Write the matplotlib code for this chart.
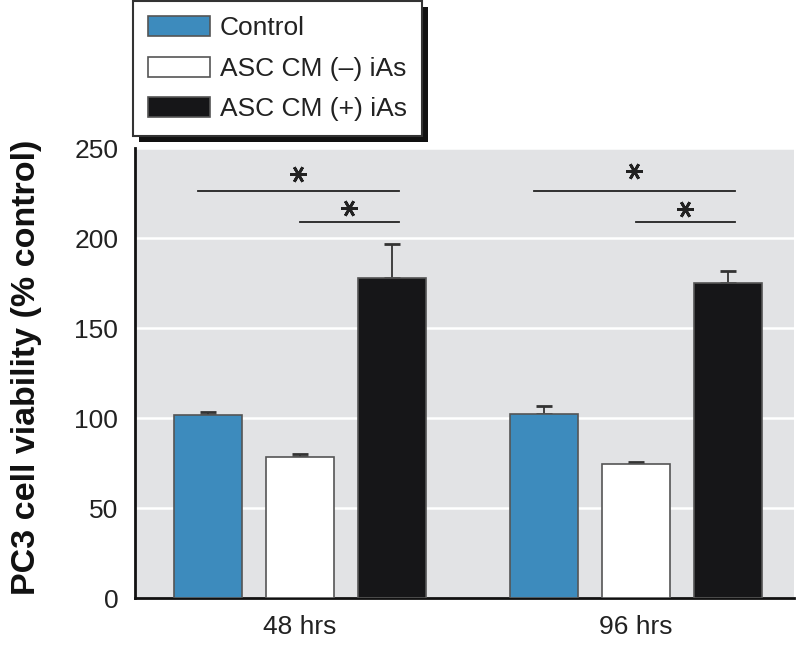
import matplotlib
matplotlib.use("Agg")
import matplotlib.pyplot as plt
from matplotlib import font_manager
from matplotlib.patches import Patch, Rectangle
import numpy as np

# data
groups = ["48 hrs", "96 hrs"]
series = ["Control", "ASC CM (\u2013) iAs", "ASC CM (+) iAs"]
values = {
    "Control": [101.7, 102.0],
    "ASC CM (\u2013) iAs": [78.2, 74.4],
    "ASC CM (+) iAs": [178.0, 174.8],
}
errors = {
    "Control": [1.8, 4.7],
    "ASC CM (\u2013) iAs": [1.8, 1.1],
    "ASC CM (+) iAs": [18.8, 7.0],
}
colors = ["#3d8bbd", "#ffffff", "#161618"]
# significance brackets: (group, from series, to series, y, star y)
sig = [(0, 0, 2, 226, 235.5), (0, 1, 2, 208.7, 216.5),
       (1, 0, 2, 226, 237), (1, 1, 2, 208.7, 216)]

avail = {f.name for f in font_manager.fontManager.ttflist}
narrow = "Liberation Sans Narrow" if "Liberation Sans Narrow" in avail else "Liberation Sans"
plt.rcParams["font.family"] = [narrow, "DejaVu Sans"]

fig = plt.figure(figsize=(8, 6.48), dpi=100)
ax = fig.add_axes([135 / 800, 50 / 648, (794 - 135) / 800, 450 / 648])
ax.set_facecolor("#e2e3e5")

offset = 92 / 336
width = 68 / 336
x = np.arange(len(groups))
for i, s in enumerate(series):
    pos = x + (i - 1) * offset
    ax.bar(pos, values[s], width, color=colors[i], edgecolor="#555555",
           linewidth=1.2, zorder=3)
    ax.errorbar(pos, values[s], yerr=[np.zeros(len(groups)), errors[s]],
                fmt="none", ecolor="#333333", elinewidth=1.3, capsize=6,
                capthick=2, zorder=2)

for g, a, b, y, ys in sig:
    xa = g + (a - 1) * offset - 0.03 if a == 0 else g + (a - 1) * offset
    xb = g + (b - 1) * offset + 0.02
    ax.plot([xa, xb], [y, y], color="#222222", lw=1.3, zorder=4)
    ax.plot([(xa + xb) / 2], [ys], marker=(6, 2, 90), ms=12, mew=2,
            color="#222222", zorder=4)

ax.set_xlim(-165 / 336, 494 / 336)
ax.set_ylim(0, 250)
ax.set_yticks([0, 50, 100, 150, 200, 250])
ax.yaxis.grid(True, color="white", lw=1.8, zorder=0)
ax.set_axisbelow(True)
ax.set_xticks(x)
ax.set_xticklabels(groups)
ax.tick_params(axis="both", length=0, labelsize=19, colors="#222222")
ax.tick_params(axis="y", pad=12)
ax.tick_params(axis="x", pad=12)
for side in ["top", "right"]:
    ax.spines[side].set_visible(False)
for side in ["left", "bottom"]:
    ax.spines[side].set_linewidth(2)
    ax.spines[side].set_color("#111111")

fig.text(27 / 800, 1 - 367 / 648, "PC3 cell viability (% control)",
         rotation=90, ha="center", va="center", fontsize=24.5,
         fontweight="bold", color="#111111")

handles = [Patch(facecolor=c, edgecolor="#555555", lw=1.2) for c in colors]
leg = fig.legend(handles, series, loc="lower left",
                 bbox_to_anchor=(133 / 800, 1 - 136 / 648), fontsize=19,
                 frameon=True, fancybox=False, edgecolor="#333333",
                 framealpha=1, handlelength=2.35, handleheight=0.8,
                 handletextpad=0.4, labelspacing=0.62, borderpad=0.55,
                 borderaxespad=0)
leg.get_frame().set_linewidth(1.5)
leg.set_zorder(10)
for t in leg.get_texts():
    t.set_color("#222222")

fig.canvas.draw()
bb = leg.get_window_extent().transformed(fig.transFigure.inverted())
shadow = Rectangle((bb.x0 + 6 / 800, bb.y0 - 6 / 648), bb.width, bb.height,
                   transform=fig.transFigure, facecolor="#111111",
                   edgecolor="none", zorder=9)
fig.add_artist(shadow)

fig.savefig("out.png", dpi=100)
